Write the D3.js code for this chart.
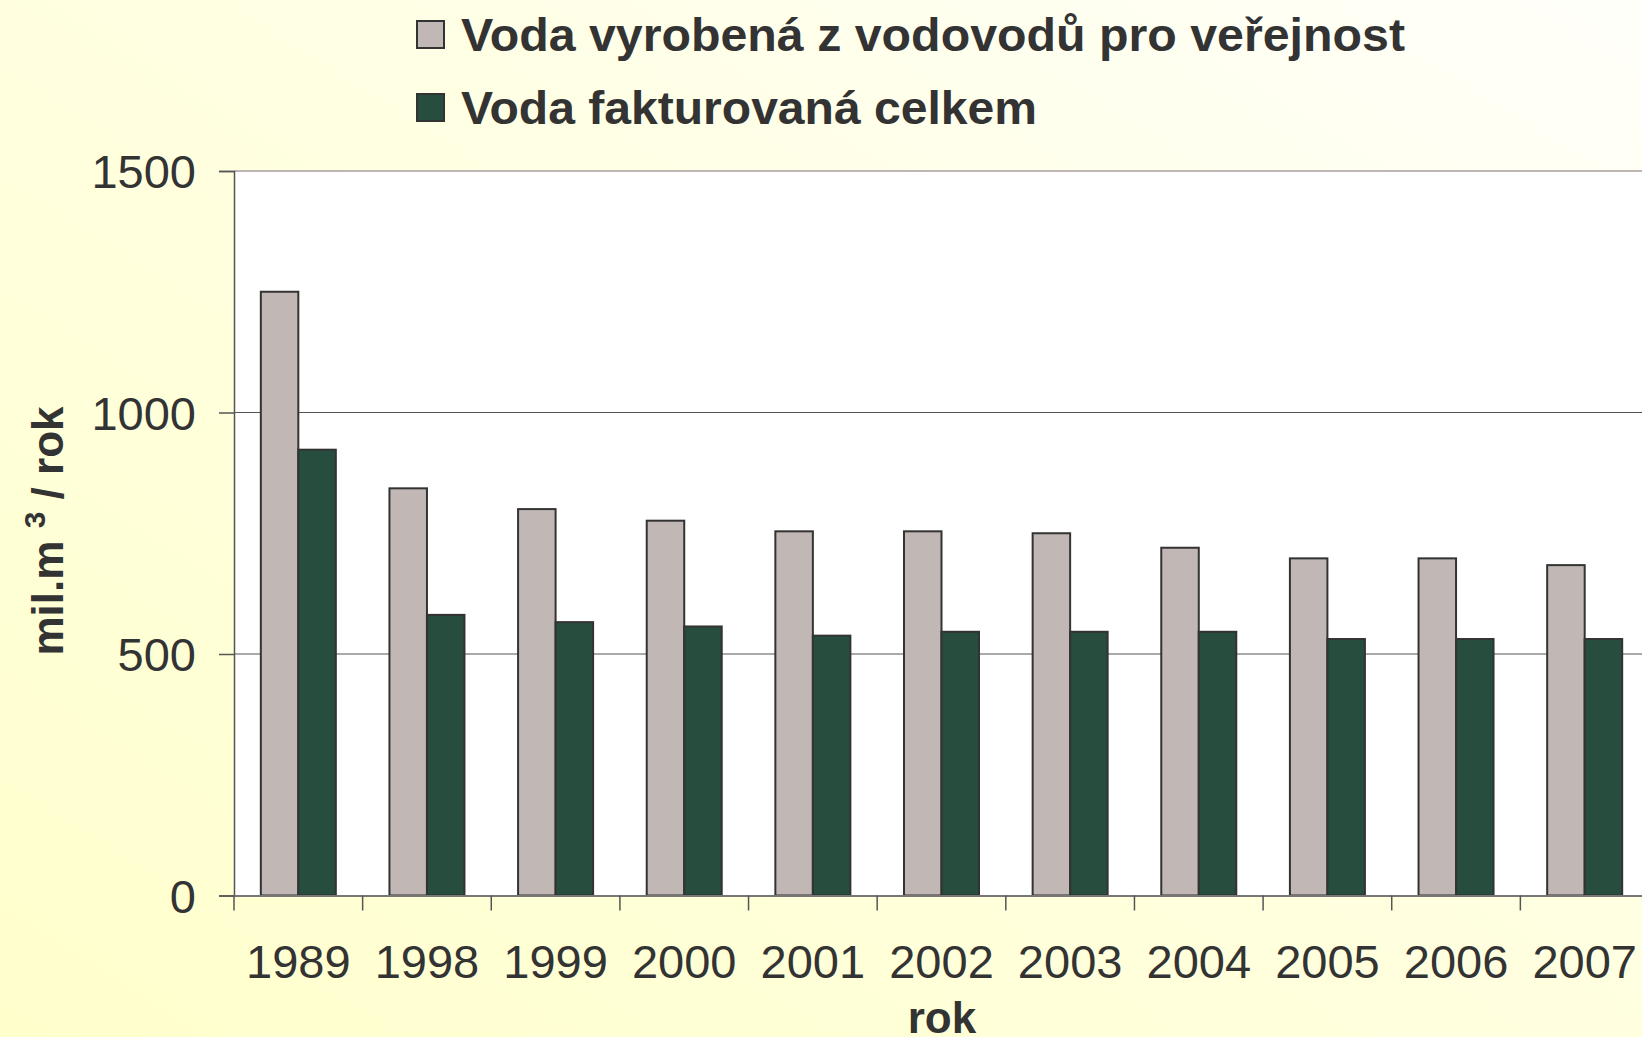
<!DOCTYPE html>
<html>
<head>
<meta charset="utf-8">
<title>Voda vyrobená a fakturovaná</title>
<script src="https://d3js.org/d3.v7.min.js"></script>
<style type="text/css">
html, body {
	margin: 0;
	padding: 0;
	overflow: hidden;
}
svg text {
	font-family: "Liberation Sans", Arial, sans-serif;
	fill: #333;
}
</style>
</head>
<body>
<div id="chart"></div>
<script>
// data (mil. m3 / rok)
var years = ["1989", "1998", "1999", "2000", "2001", "2002", "2003", "2004", "2005", "2006", "2007"];
var produced = [1250, 843, 800, 776, 754, 754, 750, 720, 698, 698, 684];
var billed = [923, 581, 566, 557, 538, 546, 546, 546, 531, 531, 531];
var seriesNames = ["Voda vyrobená z vodovodů pro veřejnost", "Voda fakturovaná celkem"];
var seriesColors = ["#c1b8b5", "#264d3d"];
var yTicks = [0, 500, 1000, 1500];

var W = 1642, H = 1037;
// plot runs past the right edge of the picture, as in the original
var plot = {left: 234, right: 1649, top: 171, bottom: 895.5};

var svg = d3.select("#chart")
  .append("svg")
    .attr("width", W)
    .attr("height", H);

// yellow page background
var grad = svg.append("defs").append("linearGradient")
    .attr("id", "bg")
    .attr("x1", 0).attr("y1", 1)
    .attr("x2", 1).attr("y2", 0);
grad.append("stop").attr("offset", "0%").attr("stop-color", "#ffffcc");
grad.append("stop").attr("offset", "55%").attr("stop-color", "#ffffe2");
grad.append("stop").attr("offset", "100%").attr("stop-color", "#fffffa");

svg.append("rect")
    .attr("width", W).attr("height", H)
    .attr("fill", "url(#bg)");

// scales
var x = d3.scaleBand()
    .domain(years)
    .range([plot.left, plot.right])
    .paddingInner(0)
    .paddingOuter(0);

var x1 = d3.scaleBand()
    .domain([0, 1])
    .range([0, x.bandwidth()])
    .paddingInner(0)
    .paddingOuter(0.715);

var y = d3.scaleLinear()
    .domain([0, 1500])
    .range([plot.bottom, plot.top]);

// plot area
svg.append("rect")
    .attr("x", plot.left).attr("y", plot.top)
    .attr("width", plot.right - plot.left)
    .attr("height", plot.bottom - plot.top)
    .attr("fill", "#ffffff");

// grid lines
svg.append("g")
  .selectAll("line")
  .data(yTicks.filter(function(d){ return d > 0 && d < 1500; }))
  .enter()
  .append("line")
    .attr("x1", plot.left).attr("x2", plot.right)
    .attr("y1", function(d){ return y(d); })
    .attr("y2", function(d){ return y(d); })
    .attr("stroke", "#555")
    .attr("stroke-width", 1);

// top border of plot
svg.append("line")
    .attr("x1", plot.left).attr("x2", plot.right)
    .attr("y1", y(1500)).attr("y2", y(1500))
    .attr("stroke", "#bfb6b3")
    .attr("stroke-width", 2);

// bars
var groups = svg.append("g")
  .selectAll("g")
  .data(years)
  .enter()
  .append("g")
    .attr("transform", function(d){ return "translate(" + x(d) + ",0)"; });

groups.selectAll("rect")
  .data(function(d, i){ return [produced[i], billed[i]]; })
  .enter()
  .append("rect")
    .attr("x", function(d, j){ return x1(j); })
    .attr("y", function(d){ return y(d); })
    .attr("width", x1.bandwidth())
    .attr("height", function(d){ return y(0) - y(d); })
    .attr("fill", function(d, j){ return seriesColors[j]; })
    .attr("stroke", "#333")
    .attr("stroke-width", 2);

// y axis
var yAxis = svg.append("g")
    .attr("transform", "translate(" + plot.left + ",0)")
    .call(d3.axisLeft(y).tickValues(yTicks).tickFormat(d3.format("d")).tickSize(15).tickPadding(23));
yAxis.select(".domain").attr("stroke", "#555").attr("stroke-width", 1.5);
yAxis.selectAll(".tick line").attr("stroke", "#555").attr("stroke-width", 1.5);
yAxis.selectAll(".tick text")
    .attr("font-size", 47)
    .attr("dy", "0.36em")
    .style("fill", "#333");

// x axis
var xAxis = svg.append("g")
    .attr("transform", "translate(0," + plot.bottom + ")")
    .call(d3.axisBottom(x).tickSize(0).tickPadding(66));
xAxis.select(".domain").attr("stroke", "#777").attr("stroke-width", 2);
xAxis.selectAll(".tick text")
    .attr("font-size", 47)
    .attr("dy", "0.36em")
    .style("fill", "#333");

// category boundary ticks
xAxis.append("g")
  .selectAll("line")
  .data(years)
  .enter()
  .append("line")
    .attr("x1", function(d){ return x(d); })
    .attr("x2", function(d){ return x(d); })
    .attr("y1", 0).attr("y2", 15)
    .attr("stroke", "#555")
    .attr("stroke-width", 1.5);

// axis titles
svg.append("text")
    .attr("x", 942).attr("y", 1033)
    .attr("text-anchor", "middle")
    .attr("font-size", 44)
    .attr("font-weight", "bold")
    .text("rok");

var yTitle = svg.append("text")
    .attr("text-anchor", "middle")
    .attr("transform", "translate(63,531)rotate(-90)")
    .attr("font-size", 44)
    .attr("font-weight", "bold");
yTitle.append("tspan").text("mil.m ");
yTitle.append("tspan").attr("font-size", 30).attr("dy", -18).text("3");
yTitle.append("tspan").attr("dy", 18).text(" / rok");

// legend
var legend = svg.append("g")
  .selectAll("g")
  .data(seriesNames)
  .enter()
  .append("g")
    .attr("transform", function(d, i){ return "translate(417," + (21 + i * 73) + ")"; });

legend.append("rect")
    .attr("width", 27).attr("height", 27)
    .attr("fill", function(d, i){ return seriesColors[i]; })
    .attr("stroke", "#333")
    .attr("stroke-width", 2);

legend.append("text")
    .attr("x", 44).attr("y", 13.5)
    .attr("dy", "0.36em")
    .attr("font-size", 46)
    .attr("font-weight", "bold")
    .attr("textLength", function(d, i){ return i == 0 ? 944 : 576; })
    .attr("lengthAdjust", "spacingAndGlyphs")
    .text(function(d){ return d; });
</script>
</body>
</html>
